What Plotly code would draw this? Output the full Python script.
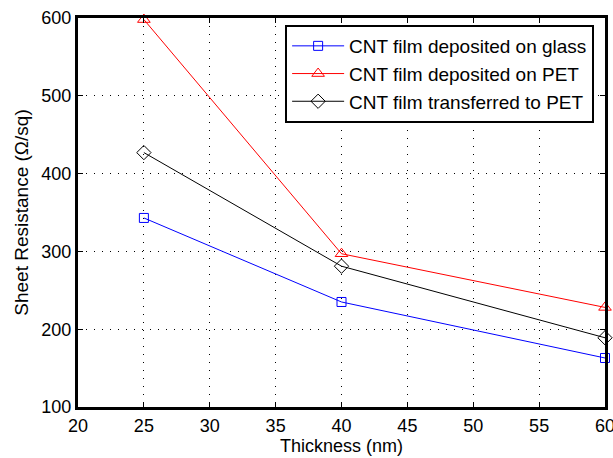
import plotly.graph_objects as go

thickness = [25, 40, 60]
glass = [343, 235, 163]
pet = [598, 297, 228]
transferred = [427, 281, 189]

fig = go.Figure()
fig.add_trace(go.Scatter(x=thickness, y=glass, mode="lines+markers", name="CNT film deposited on glass",
                         line=dict(color="blue", width=1),
                         marker=dict(symbol="square-open", size=9, color="blue", line=dict(width=1)),
                         cliponaxis=False))
fig.add_trace(go.Scatter(x=thickness, y=pet, mode="lines+markers", name="CNT film deposited on PET",
                         line=dict(color="red", width=1),
                         marker=dict(symbol="triangle-up-open", size=11, color="red", line=dict(width=1)),
                         cliponaxis=False))
fig.add_trace(go.Scatter(x=thickness, y=transferred, mode="lines+markers", name="CNT film transferred to PET",
                         line=dict(color="black", width=1),
                         marker=dict(symbol="diamond-open", size=11, color="black", line=dict(width=1)),
                         cliponaxis=False))

fam = "Liberation Sans, Arial, Helvetica, sans-serif"
font = dict(family=fam, size=18, color="black")
axis_common = dict(showline=True, linecolor="black", linewidth=3, mirror="ticks",
                   ticks="inside", ticklen=5, tickwidth=1, tickcolor="black",
                   showgrid=True, gridcolor="black", gridwidth=1, griddash="1px,7px",
                   zeroline=False, tickfont=font, automargin=False,
                   ticklabeloverflow="allow")

fig.update_layout(
    width=613, height=458,
    margin=dict(l=78, r=8, t=18, b=51),
    paper_bgcolor="white", plot_bgcolor="white",
    font=font,
    showlegend=True,
    legend=dict(x=0.393, y=0.982, xanchor="left", yanchor="top",
                bgcolor="white", bordercolor="black", borderwidth=2,
                font=dict(family=fam, size=19, color="black"), tracegroupgap=0, itemwidth=52),
    xaxis=dict(range=[20, 60], dtick=5, tick0=20,
               title=dict(text="Thickness (nm)", font=font, standoff=2), **axis_common),
    yaxis=dict(range=[100, 600], dtick=100, tick0=100,
               title=dict(text="Sheet Resistance (Ω/sq)", font=dict(family=fam, size=19, color="black"), standoff=8),
               **axis_common),
)

fig.write_html("out.html", config={"displayModeBar": False},
               post_script="document.body.style.margin='0';document.body.style.padding='0';")
